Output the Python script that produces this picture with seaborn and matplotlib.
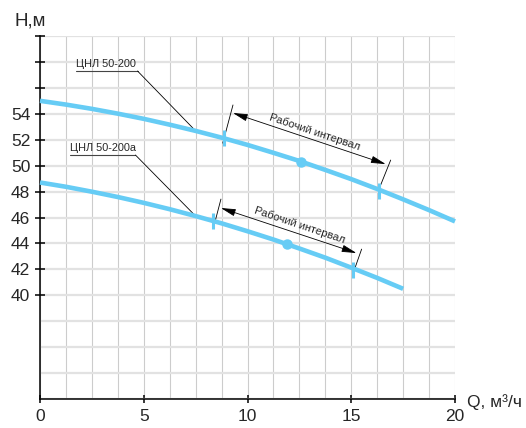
import numpy as np
import pandas as pd
import matplotlib
matplotlib.use("Agg")
import matplotlib.pyplot as plt
import seaborn as sns
from matplotlib.ticker import MultipleLocator

# ---- data ----
q_200 = [0, 1.25, 2.5, 3.75, 5, 6.25, 7.5, 8.75, 10, 11.25, 12.5, 13.75, 15,
         16.25, 17.5, 18.75, 20]
h_200 = [55.0, 54.71, 54.38, 54.01, 53.61, 53.16, 52.68, 52.16, 51.6, 50.99,
         50.36, 49.67, 48.96, 48.2, 47.4, 46.57, 45.7]
q_200a = [0, 1.25, 2.5, 3.75, 5, 6.25, 7.5, 8.75, 10, 11.25, 12.5, 13.75, 15,
          16.25, 17.5]
h_200a = [48.7, 48.37, 47.99, 47.58, 47.13, 46.64, 46.11, 45.55, 44.94, 44.3,
          43.61, 42.9, 42.13, 41.34, 40.5]

# working interval: start, nominal, end
work_q_200 = [8.85, 12.6, 16.35]
work_h_200 = [52.1, 50.3, 48.05]
work_q_200a = [8.35, 11.9, 15.1]
work_h_200a = [45.75, 43.95, 41.95]

labels = ["ЦНЛ 50-200", "ЦНЛ 50-200а"]
interval_text = "Рабочий интервал"
y_ticklabels = ["40", "42", "44", "46", "48", "50", "52", "54", "", "", ""]
x_ticklabels = ["0", "5", "10", "15", "20"]

sns.set_theme(style="white")
plt.rcParams["font.family"] = ["Liberation Sans", "DejaVu Sans"]

BLUE = "#66ccf5"

fig = plt.figure(figsize=(5.26, 4.28), dpi=100)
ax = fig.add_axes([40/526, 1-399/428, (455-40)/526, (399-36)/428])

df = pd.concat([
    pd.DataFrame({"Q": q_200, "H": h_200, "pump": labels[0]}),
    pd.DataFrame({"Q": q_200a, "H": h_200a, "pump": labels[1]}),
])
sns.lineplot(data=df, x="Q", y="H", units="pump", estimator=None,
             color=BLUE, lw=3.3, ax=ax, legend=False, zorder=3, clip_on=False,
             solid_capstyle="butt")

for wq, wh in [(work_q_200, work_h_200), (work_q_200a, work_h_200a)]:
    ax.plot([wq[0], wq[2]], [wh[0], wh[2]], ls="none", marker="|",
            ms=11, mew=2.2, color=BLUE, zorder=4)
    ax.plot([wq[1]], [wh[1]], ls="none", marker="o", ms=6.5,
            color=BLUE, mec=BLUE, zorder=4)

ax.set_xlim(0, 20)
ax.set_ylim(32, 60)

# ticks
ax.set_xticks([0, 5, 10, 15, 20])
ax.set_xticklabels(x_ticklabels)
ax.xaxis.set_minor_locator(MultipleLocator(1.25))
ax.set_yticks(np.arange(40, 61, 2))
ax.set_yticklabels(y_ticklabels)
ax.yaxis.set_minor_locator(MultipleLocator(2))
ax.tick_params(which="major", axis="y", direction="inout", length=7, width=1.1,
               color="black", labelsize=12.5, pad=3.5, left=True)
ax.tick_params(which="major", axis="x", direction="inout", length=6, width=1.1,
               color="black", labelsize=12.5, pad=4, bottom=True)
ax.tick_params(which="minor", length=0)

ax.xaxis.grid(True, which="both", color="#cccccc", lw=0.8)
ax.yaxis.grid(True, which="both", color="#e2e2e2", lw=1.6)
ax.set_axisbelow(True)

for s in ["top", "right"]:
    ax.spines[s].set_visible(False)
for s in ["left", "bottom"]:
    ax.spines[s].set_color("black")
    ax.spines[s].set_linewidth(1.1)

ax.set_xlabel("")
ax.set_ylabel("")

fig.text(14/526, 1-21/428, "H,м", ha="left", va="center", fontsize=13.5)
fig.text(467/526, 1-402/428, "Q, м³/ч", ha="left", va="center", fontsize=12.5)

# pump labels with underline and leader
lab_pos = [((1.74, 4.70, 57.3), (q_200[6], h_200[6])),
           ((1.45, 4.60, 50.82), (q_200a[6], h_200a[6]))]
for lab, ((x0, x1, yl), (qc, hc)) in zip(labels, lab_pos):
    ax.plot([x0, x1], [yl, yl], color="#444444", lw=0.8, zorder=2)
    ax.plot([x1, qc], [yl, hc], color="black", lw=0.6, zorder=2)
    ax.text(x0, yl + 0.12, lab, ha="left", va="bottom", fontsize=7.8)

# working interval dimension lines
dims = [
    dict(ext1=((8.81, 51.74), (9.30, 54.68)), ext2=((16.32, 48.12), (16.90, 50.43)),
         arr=((9.30, 54.06), (16.66, 50.12)), txt=(13.25, 52.55)),
    dict(ext1=((8.38, 45.34), (8.72, 47.42)), ext2=((15.11, 41.79), (15.50, 43.56)),
         arr=((8.72, 46.73), (15.25, 43.26)), txt=(12.5, 45.45)),
]
for d in dims:
    for (a, b) in [d["ext1"], d["ext2"]]:
        ax.plot([a[0], b[0]], [a[1], b[1]], color="black", lw=0.6, zorder=2)
    ax.annotate("", xy=d["arr"][1], xytext=d["arr"][0],
                arrowprops=dict(arrowstyle="<|-|>,head_length=0.9,head_width=0.22",
                                color="black", lw=0.6, shrinkA=0, shrinkB=0,
                                mutation_scale=10), zorder=2)
    ax.text(d["txt"][0], d["txt"][1], interval_text, rotation=-18.5,
            rotation_mode="anchor", ha="center", va="center", fontsize=8)

fig.savefig("out.png", dpi=100)
